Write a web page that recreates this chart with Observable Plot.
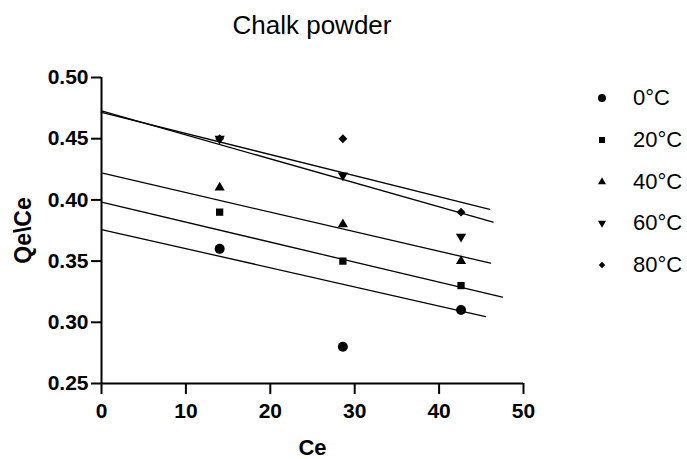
<!DOCTYPE html>
<html>
<head>
<meta charset="utf-8">
<script src="https://cdn.jsdelivr.net/npm/d3@7"></script>
<script src="https://cdn.jsdelivr.net/npm/@observablehq/plot@0.6"></script>
<style>
  html, body { margin: 0; padding: 0; background: #fff; }
  #wrap { position: relative; width: 687px; height: 459px; font-family: "Liberation Sans", Arial, sans-serif; color: #000; overflow: hidden; }
  #chart { position: absolute; left: 0; top: 0; }
  #title { position: absolute; left: 101px; width: 422px; top: 12px; text-align: center; font-size: 26px; line-height: 1; }
  .leg { position: absolute; left: 590px; height: 22px; display: flex; align-items: center; font-size: 22px; line-height: 22px; white-space: nowrap; }
  .leg svg { width: 24px; height: 22px; margin-right: 19px; }
</style>
</head>
<body>
<div id="wrap">
  <div id="chart"></div>
  <div id="title">Chalk powder</div>
  <div id="legend"></div>
</div>
<script>
// ---- data ----
const ce = [14.0, 28.6, 42.6];
const seriesNames = ["0°C", "20°C", "40°C", "60°C", "80°C"];
const qe0 = [0.36, 0.28, 0.31];
const qe20 = [0.39, 0.35, 0.33];
const qe40 = [0.41, 0.38, 0.35];
const qe60 = [0.45, 0.42, 0.37];
const qe80 = [0.45, 0.45, 0.39];
// fitted lines as drawn: value at Ce = 0 and at the line's end
const fitStart = [0.3758, 0.3982, 0.4220, 0.4727, 0.4715];
const fitEndCe = [45.5, 47.5, 46.1, 46.4, 46.0];
const fitEnd = [0.3047, 0.3205, 0.3483, 0.3818, 0.3922];
const xTicks = [0, 10, 20, 30, 40, 50];
const yTicks = [0.25, 0.30, 0.35, 0.40, 0.45, 0.50];

// ---- symbols ----
const triangleDown = {
  draw(context, size) {
    const y = -Math.sqrt(size / (Math.sqrt(3) * 3));
    context.moveTo(0, -y * 2);
    context.lineTo(-Math.sqrt(3) * y, y);
    context.lineTo(Math.sqrt(3) * y, y);
    context.closePath();
  }
};
const symbols = [d3.symbolCircle, d3.symbolSquare, d3.symbolTriangle, triangleDown, d3.symbolDiamond2];
const plotR = [5, 4.1, 3.8, 3.8, 4.0];
const legendSize = [50, 36, 28, 28, 26];

const values = [qe0, qe20, qe40, qe60, qe80];
const points = [];
values.forEach((vals, i) => vals.forEach((v, j) => points.push({ce: ce[j], qe: v, s: seriesNames[i], i})));
const lines = [];
seriesNames.forEach((s, i) => {
  lines.push({ce: 0, qe: fitStart[i], s});
  lines.push({ce: fitEndCe[i], qe: fitEnd[i], s});
});

const font = '"Liberation Sans", Arial, sans-serif';
const marks = [
  Plot.line(lines, {x: "ce", y: "qe", z: "s", stroke: "#000", strokeWidth: 1.3}),
];
seriesNames.forEach((s, i) => {
  marks.push(Plot.dot(points.filter(d => d.i === i), {x: "ce", y: "qe", symbol: () => symbols[i], r: plotR[i], fill: "#000", stroke: "none"}));
});
marks.push(
  Plot.ruleX([0], {stroke: "#000", strokeWidth: 2}),
  Plot.ruleY([0.25], {stroke: "#000", strokeWidth: 2}),
  Plot.axisX({ticks: xTicks, tickSize: 11, tickPadding: 9, strokeWidth: 2, fontSize: 21, fontWeight: "bold", fill: "#000",
    label: "Ce", labelAnchor: "center", labelOffset: 71, labelArrow: "none"}),
  Plot.axisY({ticks: yTicks, tickSize: 10, tickPadding: 3, strokeWidth: 2, fontSize: 21, fontWeight: "bold", fill: "#000",
    tickFormat: d3.format(".2f"), label: "Qe\\Ce", labelAnchor: "center", labelOffset: 87, labelArrow: "none"})
);

const chart = Plot.plot({
  width: 687,
  height: 459,
  marginLeft: 101,
  marginRight: 164,
  marginTop: 77,
  marginBottom: 76,
  x: {domain: [0, 50]},
  y: {domain: [0.25, 0.5]},
  style: {fontFamily: font, background: "#fff", color: "#000", overflow: "visible"},
  marks
});
chart.querySelectorAll("[aria-label='x-axis label'] text").forEach(t => {
  t.setAttribute("font-size", "22");
  t.setAttribute("font-weight", "bold");
  t.style.fontSize = "22px";
  t.style.fontWeight = "bold";
});
chart.querySelectorAll("[aria-label='y-axis label'] text").forEach(t => {
  t.setAttribute("font-size", "23");
  t.setAttribute("font-weight", "bold");
  t.style.fontSize = "23px";
  t.style.fontWeight = "bold";
});
document.getElementById("chart").appendChild(chart);

// ---- legend ----
const legendY = [98, 140, 182, 223, 265];
const legend = document.getElementById("legend");
seriesNames.forEach((s, i) => {
  const row = document.createElement("div");
  row.className = "leg";
  row.style.top = (legendY[i] - 11) + "px";
  const path = d3.symbol().type(symbols[i]).size(legendSize[i])();
  row.innerHTML = `<svg viewBox="-12 -11 24 22"><path d="${path}" fill="#000"/></svg><span>${s}</span>`;
  legend.appendChild(row);
});
</script>
</body>
</html>
